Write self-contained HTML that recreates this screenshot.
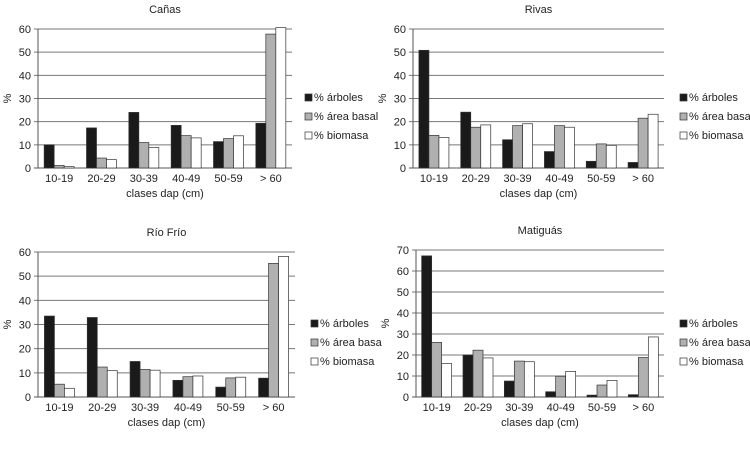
<!DOCTYPE html>
<html><head><meta charset="utf-8"><style>
body{margin:0;background:#fff;}
svg{display:block;font-family:"Liberation Sans",sans-serif;}
</style></head><body>
<svg id="c" width="750" height="452"></svg>
<script>
const categories=["10-19","20-29","30-39","40-49","50-59","> 60"];
const canasArboles=[10,17.3,24,18.4,11.4,19.3];
const canasBasal=[1.1,4.3,11,14,12.7,57.8];
const canasBiomasa=[0.6,3.6,8.8,13,13.9,62];
const rivasArboles=[50.8,24.1,12.2,7.1,2.9,2.4];
const rivasBasal=[14.1,17.6,18.3,18.3,10.4,21.5];
const rivasBiomasa=[13.2,18.6,19.1,17.6,9.8,23.2];
const rioArboles=[33.5,32.9,14.7,6.9,4.1,7.8];
const rioBasal=[5.3,12.4,11.4,8.4,7.9,55.3];
const rioBiomasa=[3.6,10.9,11.1,8.7,8.2,58.2];
const matArboles=[67.2,20,7.6,2.5,0.9,1.1];
const matBasal=[26,22.3,17.1,9.9,5.7,18.8];
const matBiomasa=[16,18.6,16.8,12.2,7.9,28.6];
const ticks60=[0,10,20,30,40,50,60];
const ticks70=[0,10,20,30,40,50,60,70];
const seriesNames=["% árboles","% área basal","% biomasa"];
const seriesNamesRio=["% árboles","% área basa","% biomasa"];
const colors=["#1a1a1a","#b0b0b0","#ffffff"];

const svg=document.getElementById('c');
const NS="http://www.w3.org/2000/svg";
function mk(tag,attrs,text){const e=document.createElementNS(NS,tag);for(const k in attrs)e.setAttribute(k,attrs[k]);if(text!==undefined)e.textContent=text;svg.appendChild(e);return e;}

function panel(key,title,x0,x1,yTop,yBot,ticks,series,names,legX,legY){
  const maxV=ticks[ticks.length-1];
  const y=v=>yBot-(Math.min(v,maxV+0.6)/maxV)*(yBot-yTop);
  const cw=(x1-x0)/categories.length;
  const t=mk('text',{x:(x0+x1)/2,y:yTop-16,'text-anchor':'middle','font-size':11,fill:'#222'},title);
  
  ticks.forEach(v=>{
    const l=mk('line',{x1:x0-4,x2:x1,y1:y(v),y2:y(v),stroke:v===0?'#555':'#777','stroke-width':1});
    
    const tl=mk('text',{x:x0-7,y:y(v)+4,'text-anchor':'end','font-size':11,fill:'#222'},String(v));
    
  });
  const ax=mk('line',{x1:x0,x2:x0,y1:yTop,y2:yBot,stroke:'#555','stroke-width':1});
  
  categories.forEach((c,i)=>{
    const cx=x0+cw*(i+0.5);
    series.forEach((s,j)=>{
      const bx=cx-15+j*10;
      const r=mk('rect',{x:bx,y:y(s[i]),width:10,height:yBot-y(s[i]),fill:colors[j],stroke:'#333','stroke-width':0.7});
      
    });
    const tl=mk('text',{x:cx,y:yBot+14,'text-anchor':'middle','font-size':11,fill:'#222'},c);
    
  });
  const xt=mk('text',{x:(x0+x1)/2,y:yBot+29,'text-anchor':'middle','font-size':11,fill:'#222'},'clases dap (cm)');
  
  const ym=(yTop+yBot)/2;
  const yt=mk('text',{x:x0-27,y:ym,'text-anchor':'middle','font-size':11,fill:'#222',transform:`rotate(-90 ${x0-27} ${ym})`},'%');
  
  names.forEach((n,j)=>{
    const ly=legY+j*19;
    const sq=mk('rect',{x:legX,y:ly-7,width:7,height:7,fill:colors[j],stroke:'#333','stroke-width':0.7});
    
    const lt=mk('text',{x:legX+9,y:ly,'font-size':11,fill:'#222'},n);
    
  });
}
panel('canas','Cañas',38,292,29,168,ticks60,[canasArboles,canasBasal,canasBiomasa],seriesNames,305,101);
panel('rivas','Rivas',413,664,29,168,ticks60,[rivasArboles,rivasBasal,rivasBiomasa],seriesNames,680,101);
panel('riofrio','Río Frío',38,295,252,397,ticks60,[rioArboles,rioBasal,rioBiomasa],seriesNamesRio,311,327);
panel('matiguas','Matiguás',416,664,250,397,ticks70,[matArboles,matBasal,matBiomasa],seriesNames,680,327);
</script>
</body></html>
